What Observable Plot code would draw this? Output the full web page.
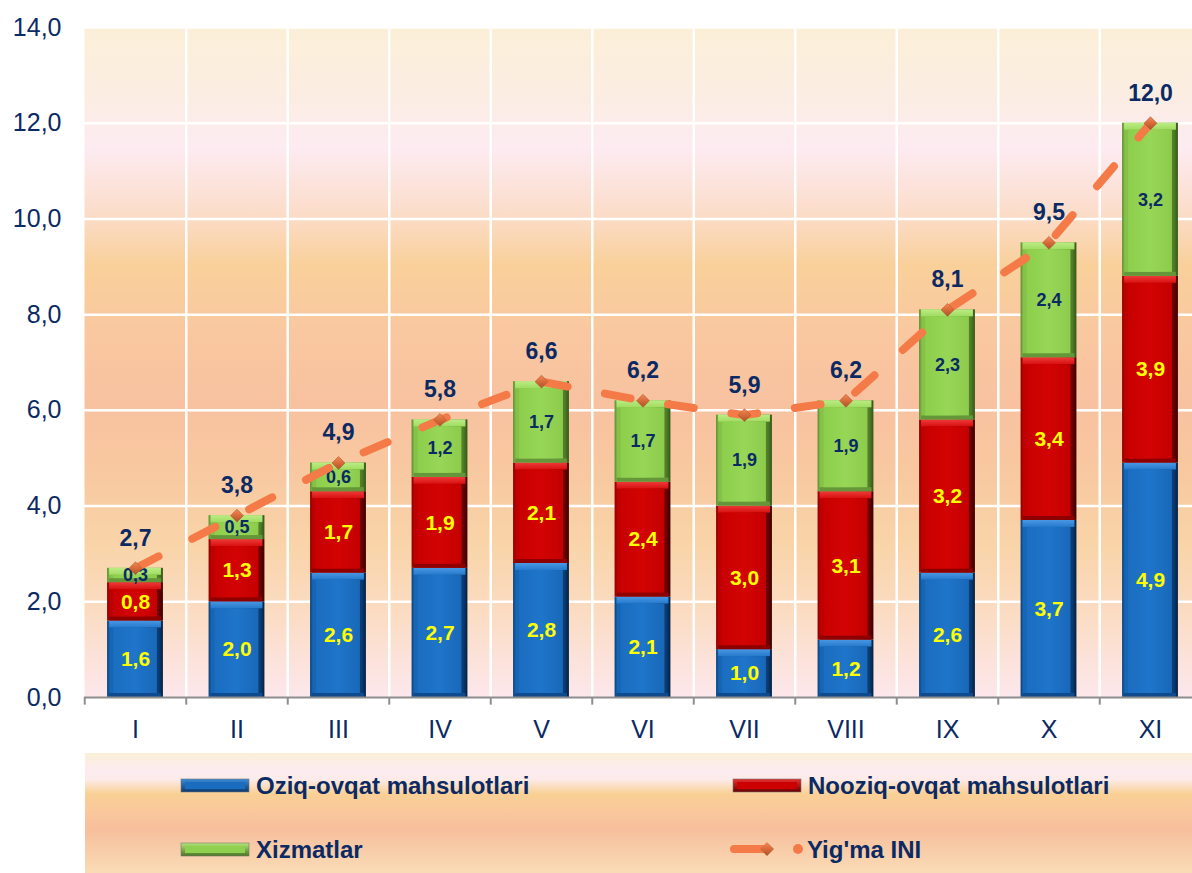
<!DOCTYPE html>
<html><head><meta charset="utf-8">
<script src="https://cdn.jsdelivr.net/npm/d3@7"></script>
<script src="https://cdn.jsdelivr.net/npm/@observablehq/plot@0.6"></script>
<style>
html,body{margin:0;padding:0;background:#fff;}
#wrap{position:relative;width:1192px;height:873px;overflow:hidden;font-family:"Liberation Sans",Arial,sans-serif;}
#chart svg{display:block;}
#legend{position:absolute;left:85px;top:753px;width:1107px;height:120px;}
</style></head>
<body><div id="wrap"><div id="chart"></div><div id="legend"></div></div>
<script>
const months = ["I","II","III","IV","V","VI","VII","VIII","IX","X","XI"];
const food = [1.6,2.0,2.6,2.7,2.8,2.1,1.0,1.2,2.6,3.7,4.9];
const nonFood = [0.8,1.3,1.7,1.9,2.1,2.4,3.0,3.1,3.2,3.4,3.9];
const services = [0.3,0.5,0.6,1.2,1.7,1.7,1.9,1.9,2.3,2.4,3.2];
const total = [2.7,3.8,4.9,5.8,6.6,6.2,5.9,6.2,8.1,9.5,12.0];
const seriesNames = ["Oziq-ovqat mahsulotlari","Nooziq-ovqat mahsulotlari","Xizmatlar"];
const lineName = "Yig'ma INI";
const yTicks = [0,2,4,6,8,10,12,14];

const navy = "#0b2a63";
const fmt = v => v.toFixed(1).replace(".", ",");
const seriesKeys = ["food","nonFood","services"];
const seriesValues = {food, nonFood, services};
const segments = [];
months.forEach((m,i) => {
  let acc = 0;
  seriesKeys.forEach(k => {
    const v = seriesValues[k][i];
    segments.push({month: m, series: k, value: v, y1: acc, y2: acc + v});
    acc += v;
  });
});
const totals = months.map((m,i) => ({month: m, total: total[i]}));

const sty = {
  food:     {edge:"url(#edgeBlue)",  face:"url(#faceBlue)",  top:"url(#topBlue)", bottom:"#0f4a8c", label:"#ffff00", size:21},
  nonFood:  {edge:"url(#edgeRed)",   face:"url(#faceRed)",   top:"url(#topRed)", bottom:"#8e0000", label:"#ffff00", size:21},
  services: {edge:"url(#edgeGreen)", face:"url(#faceGreen)", top:"url(#topGreen)", bottom:"#65973a", label:navy, size:18}
};

const barMarks = [];
seriesKeys.forEach(k => {
  const data = segments.filter(d => d.series === k);
  const s = sty[k];
  barMarks.push(
    Plot.barY(data, {x: "month", y1: "y1", y2: "y2", fill: s.edge}),
    Plot.barY(data, {x: "month", y1: "y2", y2: "y2", insetBottom: -7, insetLeft: 2, insetRight: 2, fill: s.top}),
    Plot.barY(data, {x: "month", y1: "y1", y2: "y1", insetTop: -4, insetLeft: 2, insetRight: 2, fill: s.bottom}),
    Plot.barY(data, {x: "month", y1: "y1", y2: "y2", insetTop: 7, insetBottom: 4, insetLeft: 6, insetRight: 6, fill: s.face})
  );
});
const labelMarks = seriesKeys.map(k => Plot.text(segments.filter(d => d.series === k), {
  x: "month", y: d => (d.y1 + d.y2) / 2, text: d => fmt(d.value),
  fill: sty[k].label, fontSize: sty[k].size, fontWeight: "bold", lineAnchor: "middle"
}));

const chart = Plot.plot({
  width: 1192, height: 753,
  marginLeft: 84, marginRight: 0, marginTop: 27, marginBottom: 56,
  style: {fontFamily: "'Liberation Sans', Arial, sans-serif", fontSize: "25px", color: navy, background: "transparent", overflow: "visible"},
  x: {domain: months, range: [84.25, 1200.75], round: false, paddingInner: 0.45, paddingOuter: 0.225, tickSize: 0, tickPadding: 23, label: null},
  y: {domain: [0, 14], ticks: 7, tickFormat: fmt, tickSize: 0, tickPadding: 23, label: null},
  marks: [
    Plot.frame({fill: "url(#bg)", stroke: null}),
    Plot.ruleY(yTicks.filter(d => d > 0), {stroke: "#ffffff", strokeWidth: 2.5}),
    Plot.ruleX(months.slice(1), {x: d => d, dx: -50.75, stroke: "#ffffff", strokeWidth: 2.5}),
    ...barMarks,
    Plot.ruleY([0], {stroke: "#8e8e8e", strokeWidth: 2}),
    Plot.ruleX(months, {x: d => d, dx: -50.75, y1: 0, y2: -0.16, stroke: "#8e8e8e", strokeWidth: 2}),
    ...labelMarks,
    Plot.line(totals, {x: "month", y: "total", stroke: "#f47b48", strokeWidth: 8, strokeDasharray: "26,38", strokeLinecap: "round", strokeLinejoin: "round"}),
    Plot.dot(totals, {x: "month", y: "total", symbol: "diamond2", r: 5.8, fill: "url(#gDiam)", stroke: "#b0582e", strokeWidth: 0.6}),
    Plot.text(totals, {x: "month", y: "total", dy: -30, text: d => fmt(d.total), fill: navy, fontSize: 23, fontWeight: "bold", lineAnchor: "middle"})
  ]
});

const ns = "http://www.w3.org/2000/svg";
const defs = document.createElementNS(ns, "defs");
defs.innerHTML = `
<linearGradient id="bg" x1="0" y1="0" x2="0" y2="1">
  <stop offset="0" stop-color="#fcefd8"/>
  <stop offset="0.10" stop-color="#fbede2"/>
  <stop offset="0.18" stop-color="#fdebf2"/>
  <stop offset="0.28" stop-color="#fbdcc8"/>
  <stop offset="0.355" stop-color="#f9d09a"/>
  <stop offset="0.45" stop-color="#f9c8a0"/>
  <stop offset="0.56" stop-color="#f8c2a0"/>
  <stop offset="0.66" stop-color="#f8c8a0"/>
  <stop offset="0.77" stop-color="#f9d4a8"/>
  <stop offset="0.87" stop-color="#fbdcc2"/>
  <stop offset="1" stop-color="#fce7ec"/>
</linearGradient>
<linearGradient id="edgeBlue" x1="0" y1="0" x2="1" y2="0">
  <stop offset="0" stop-color="#0a3e78"/><stop offset="0.05" stop-color="#1666b6"/>
  <stop offset="0.6" stop-color="#1563b0"/><stop offset="0.93" stop-color="#0a3a72"/><stop offset="1" stop-color="#04203f"/>
</linearGradient>
<linearGradient id="faceBlue" x1="0" y1="0" x2="1" y2="0">
  <stop offset="0" stop-color="#1b6dc0"/><stop offset="0.5" stop-color="#1e75ca"/><stop offset="1" stop-color="#1968b8"/>
</linearGradient>
<linearGradient id="topBlue" x1="0" y1="0" x2="0" y2="1">
  <stop offset="0" stop-color="#4a98e4"/><stop offset="1" stop-color="#2679cc"/>
</linearGradient>
<linearGradient id="edgeRed" x1="0" y1="0" x2="1" y2="0">
  <stop offset="0" stop-color="#8a0000"/><stop offset="0.05" stop-color="#bf0000"/>
  <stop offset="0.6" stop-color="#b80000"/><stop offset="0.93" stop-color="#6a0000"/><stop offset="1" stop-color="#3a0000"/>
</linearGradient>
<linearGradient id="faceRed" x1="0" y1="0" x2="1" y2="0">
  <stop offset="0" stop-color="#c80000"/><stop offset="0.5" stop-color="#d30303"/><stop offset="1" stop-color="#c40000"/>
</linearGradient>
<linearGradient id="topRed" x1="0" y1="0" x2="0" y2="1">
  <stop offset="0" stop-color="#ee3a3a"/><stop offset="1" stop-color="#d81010"/>
</linearGradient>
<linearGradient id="edgeGreen" x1="0" y1="0" x2="1" y2="0">
  <stop offset="0" stop-color="#5b8a30"/><stop offset="0.05" stop-color="#86c24a"/>
  <stop offset="0.6" stop-color="#7fb845"/><stop offset="0.93" stop-color="#4f7c26"/><stop offset="1" stop-color="#34561a"/>
</linearGradient>
<linearGradient id="faceGreen" x1="0" y1="0" x2="1" y2="0">
  <stop offset="0" stop-color="#8dce4c"/><stop offset="0.5" stop-color="#97d656"/><stop offset="1" stop-color="#8ccb4b"/>
</linearGradient>
<linearGradient id="topGreen" x1="0" y1="0" x2="0" y2="1">
  <stop offset="0" stop-color="#bdec86"/><stop offset="1" stop-color="#9fdc60"/>
</linearGradient>
<linearGradient id="gDiam" x1="0" y1="0" x2="0" y2="1">
  <stop offset="0" stop-color="#f2895a"/><stop offset="0.5" stop-color="#d86a38"/><stop offset="1" stop-color="#a9542c"/>
</linearGradient>`;
chart.insertBefore(defs, chart.firstChild);
document.getElementById("chart").appendChild(chart);

// legend
const swatches = [
  {name: seriesNames[0], edge: "url(#lEdgeBlue)", face: "#1a6cbe", x: 96, y: 26},
  {name: seriesNames[1], edge: "url(#lEdgeRed)", face: "#cc0000", x: 648, y: 26},
  {name: seriesNames[2], edge: "url(#lEdgeGreen)", face: "#90d050", x: 96, y: 90}
];
let lg = `<svg xmlns="${ns}" width="1107" height="120" style="display:block;font-family:'Liberation Sans',Arial,sans-serif">
<defs>
<linearGradient id="legbg" x1="0" y1="0" x2="0" y2="1">
  <stop offset="0" stop-color="#fbefd8"/><stop offset="0.15" stop-color="#fcebf0"/>
  <stop offset="0.22" stop-color="#fcebe8"/><stop offset="0.34" stop-color="#f9d095"/>
  <stop offset="0.48" stop-color="#f9c89c"/><stop offset="0.64" stop-color="#f7bf9c"/>
  <stop offset="1" stop-color="#f9dcb6"/>
</linearGradient>
<linearGradient id="lEdgeBlue" x1="0" y1="0" x2="0" y2="1"><stop offset="0" stop-color="#3b8bd8"/><stop offset="1" stop-color="#0b3a70"/></linearGradient>
<linearGradient id="lEdgeRed" x1="0" y1="0" x2="0" y2="1"><stop offset="0" stop-color="#e83030"/><stop offset="1" stop-color="#6a0000"/></linearGradient>
<linearGradient id="lEdgeGreen" x1="0" y1="0" x2="0" y2="1"><stop offset="0" stop-color="#b4e878"/><stop offset="1" stop-color="#4a7424"/></linearGradient>
<linearGradient id="lDiam" x1="0" y1="0" x2="0" y2="1"><stop offset="0" stop-color="#f2895a"/><stop offset="0.5" stop-color="#d86a38"/><stop offset="1" stop-color="#a9542c"/></linearGradient>
</defs>
<rect x="0" y="0" width="1107" height="120" fill="url(#legbg)"/>`;
swatches.forEach(s => {
  lg += `<rect x="${s.x}" y="${s.y}" width="68" height="13" fill="${s.edge}" stroke="#777" stroke-width="0.6"/>
  <rect x="${s.x + 4}" y="${s.y + 3}" width="60" height="7" fill="${s.face}"/>
  <text x="${s.x + 75}" y="${s.y + 6.5}" dy="0.36em" font-size="24" font-weight="bold" fill="${navy}">${s.name}</text>`;
});
lg += `<line x1="649" y1="96" x2="680" y2="96" stroke="#f47b48" stroke-width="8" stroke-linecap="round"/>
<path d="M682,89 L689,96 L682,103 L675,96 Z" fill="url(#lDiam)"/>
<circle cx="713" cy="96" r="5" fill="#f47b48"/>
<text x="722" y="96" dy="0.36em" font-size="24" font-weight="bold" fill="${navy}">${lineName}</text>
</svg>`;
document.getElementById("legend").innerHTML = lg;
</script>
</body></html>
